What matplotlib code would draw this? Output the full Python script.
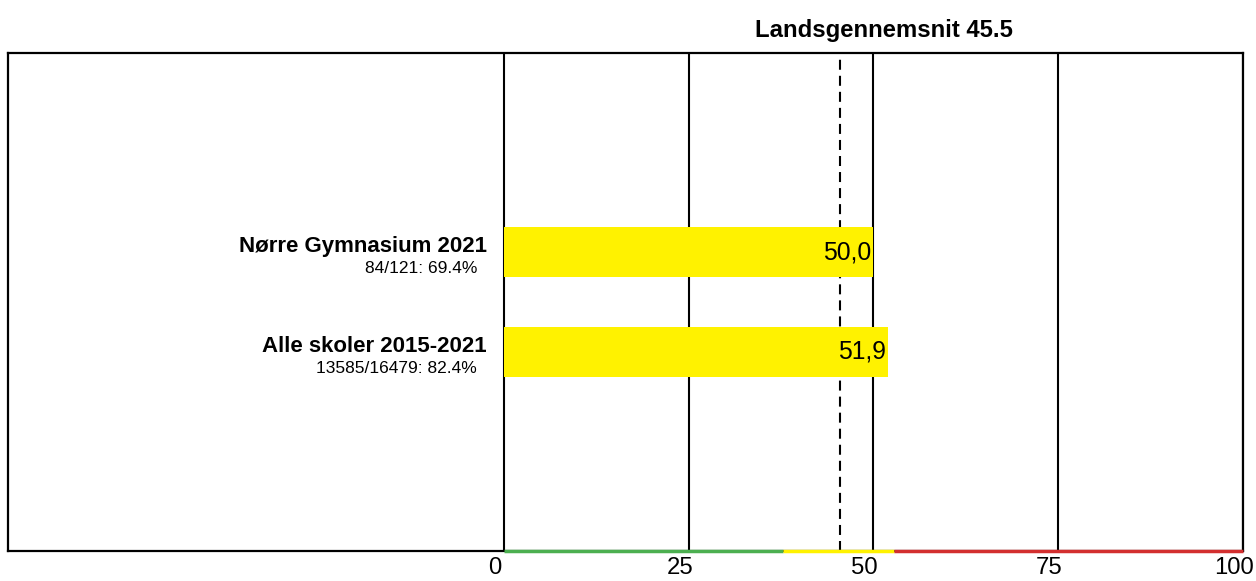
import numpy as np
import matplotlib
matplotlib.use("Agg")
import matplotlib.pyplot as plt
from matplotlib.transforms import ScaledTranslation

plt.rcParams['font.family'] = ['Liberation Sans', 'DejaVu Sans']

# data
labels = ["Nørre Gymnasium 2021", "Alle skoler 2015-2021"]
sublabels = ["84/121: 69.4%", "13585/16479: 82.4%"]
values = [50.0, 51.9]
national_avg = 45.5
band_edges = [0, 37.7, 52.8, 100]
band_colors = ["#4caf50", "#fff200", "#d32f2f"]
xticks = [0, 25, 50, 75, 100]

fig = plt.figure(figsize=(12.56, 5.81), dpi=100)
W, H = 1256, 581
ax = fig.add_axes([8 / W, (H - 551) / H, (1243 - 8) / W, (551 - 53) / H])

ypos = np.arange(len(labels)) + 2
ax.set_xlim(-67.1, 100)
ax.set_ylim(5, 0)

# vertical grid + national average
ax.set_xticks(xticks)
ax.set_yticks([])
ax.xaxis.grid(True, color="black", linewidth=1.5, zorder=1)
ax.set_axisbelow(True)
ax.axvline(national_avg, color="black", linewidth=1.5,
           linestyle=(0, (4.8, 2.9)), zorder=1.5)

ax.barh(ypos, values, height=0.5, color="#fff200", zorder=2)

for y, v, lab, sub in zip(ypos, values, labels, sublabels):
    ax.annotate(f"{v:.1f}".replace(".", ","), (v, y), xytext=(-1.5, 0),
                textcoords="offset points", ha="right", va="center",
                fontsize=17.8, zorder=3)
    ax.annotate(lab, (0, y), xytext=(-12.2, 0), textcoords="offset points",
                ha="right", va="baseline", fontsize=16, fontweight="bold")
    ax.annotate(sub, (0, y), xytext=(-19.4, -15.1), textcoords="offset points",
                ha="right", va="baseline", fontsize=12.5)

# colored band along the bottom
for i in range(len(band_colors)):
    ax.plot([band_edges[i], band_edges[i + 1]], [5, 5], color=band_colors[i],
            linewidth=2.5, solid_capstyle="butt", clip_on=False, zorder=4)

for s in ax.spines.values():
    s.set_linewidth(1.6)
    s.set_color("black")

ax.tick_params(axis="x", length=0, pad=4.5, labelsize=17.2)
for t in ax.get_xticklabels():
    t.set_transform(t.get_transform() + ScaledTranslation(-9 / 100, 0, fig.dpi_scale_trans))

fig.text(884 / W, 1 - 37 / H, f"Landsgennemsnit {national_avg}", ha="center",
         va="baseline", fontsize=17.2, fontweight="bold")

fig.savefig("out.png", dpi=100)
